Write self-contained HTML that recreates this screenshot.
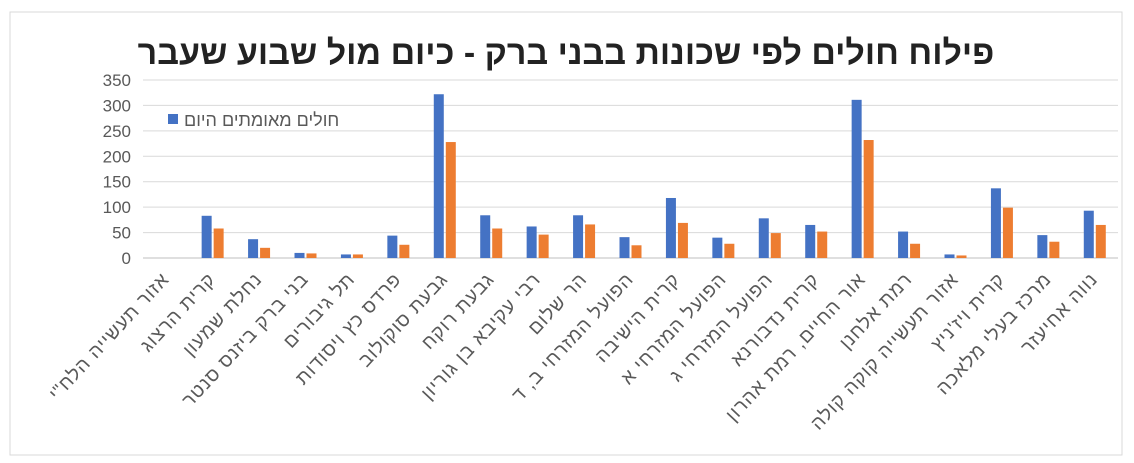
<!DOCTYPE html>
<html><head><meta charset="utf-8"><style>
body{margin:0;background:#fff;}
svg{display:block;font-family:"Liberation Sans","Noto Sans CJK SC",sans-serif;}
</style></head><body>
<svg id="chart" width="1134" height="463" viewBox="0 0 1134 463">
<rect x="10" y="12" width="1112" height="443" fill="#fff" stroke="#d9d9d9"/>
<text x="566" y="64" text-anchor="middle" font-size="34" font-weight="bold" fill="#222">פילוח חולים לפי שכונות בבני ברק - כיום מול שבוע שעבר</text>
<g id="grid"></g><g id="bars"></g><g id="labels"></g>
<rect x="168" y="114" width="10" height="10" fill="#4472c4"/>
<text x="184" y="126" font-size="18" fill="#595959">חולים מאומתים היום</text>
</svg>
<script>
const categories=["אזור תעשייה הלח\"י","קרית הרצוג","נחלת שמעון","בני ברק ביזנס סנטר","תל גיבורים","פרדס כץ ויסודות","גבעת סוקולוב","גבעת רוקח","רבי עקיבא בן גוריון","הר שלום","הפועל המזרחי ב, ד","קרית הישיבה","הפועל המזרחי א","הפועל המזרחי ג","קרית נדבורנא","אור החיים, רמת אהרון","רמת אלחנן","אזור תעשייה קוקה קולה","קרית ויז'ניץ","מרכז בעלי מלאכה","נווה אחיעזר"];
const todayValues=[0,83,37,10,7,44,322,84,62,84,41,118,40,78,65,311,52,7,137,45,93];
const lastWeekValues=[0,58,20,9,7,26,228,58,46,66,25,69,28,49,52,232,28,5,99,32,65];
const yTicks=[0,50,100,150,200,250,300,350];
const NS="http://www.w3.org/2000/svg";
const x0=143,x1=1118,y0=258,yTop=80,yMax=350;
const step=(x1-x0)/categories.length;
const yS=v=>y0-(v/yMax)*(y0-yTop);
const xC=i=>x0+step*(i+0.5);
const grid=document.getElementById('grid'),bars=document.getElementById('bars'),labels=document.getElementById('labels');
function mk(tag,attrs,parent){const e=document.createElementNS(NS,tag);for(const k in attrs)e.setAttribute(k,attrs[k]);parent.appendChild(e);return e;}
yTicks.forEach(t=>{
  const l=mk('line',{x1:x0,x2:x1,y1:yS(t),y2:yS(t),stroke:t===0?'#bfbfbf':'#d9d9d9','stroke-width':1},grid);
  
  
  const tx=mk('text',{x:x0-12,y:yS(t)+6,'text-anchor':'end','font-size':17,fill:'#595959'},grid);
  tx.textContent=t;
  
  
});
const bw=10;
categories.forEach((c,i)=>{
  const cx=xC(i);
  const b1=mk('rect',{x:cx-bw-1,y:yS(todayValues[i]),width:bw,height:y0-yS(todayValues[i]),fill:'#4472c4'},bars);
  
  
  const b2=mk('rect',{x:cx+1,y:yS(lastWeekValues[i]),width:bw,height:y0-yS(lastWeekValues[i]),fill:'#ed7d31'},bars);
  
  
  const ax=cx+4,ay=280;
  const t=mk('text',{x:ax,y:ay,'text-anchor':'end','font-size':19,'letter-spacing':1,fill:'#595959',transform:`rotate(-47 ${ax} ${ay})`},labels);
  t.textContent=c;
  
  
});
</script>
</body></html>
